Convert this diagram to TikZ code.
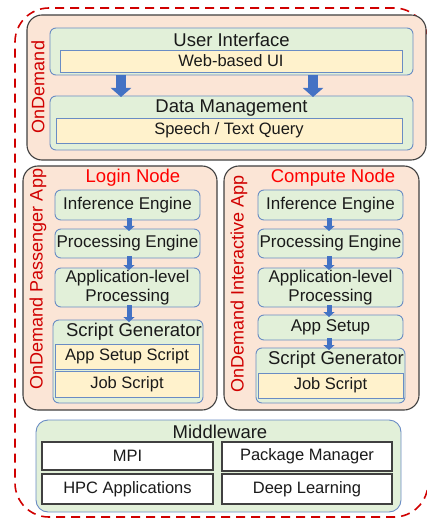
\documentclass[tikz,border=0pt]{standalone}
\usepackage{fontspec}
\setmainfont{Liberation Sans}
\usetikzlibrary{arrows.meta}
\definecolor{salmon}{HTML}{FBE5D6}
\definecolor{lgreen}{HTML}{E2F0D9}
\definecolor{lyellow}{HTML}{FFF2CC}
\definecolor{bborder}{HTML}{6A8CC4}
\definecolor{ablue}{HTML}{4472C4}
\definecolor{dred}{HTML}{D00000}
\definecolor{pgray}{HTML}{404040}
\definecolor{txtc}{HTML}{1A1A1A}
\tikzset{
  box/.style={anchor=north west, inner sep=0pt, outer sep=0pt, text=txtc},
  panel/.style={box, draw=pgray, fill=salmon, rounded corners=15pt, line width=1.1pt},
  gbox/.style={box, draw=bborder, fill=lgreen, rounded corners=6pt, line width=0.9pt,
    font=\fontsize{17}{19.5}\selectfont, align=center},
  ybox/.style={box, draw=bborder, fill=lyellow, line width=0.9pt, font=\fontsize{16.5}{19}\selectfont},
  wbox/.style={box, draw=pgray, fill=white, line width=1.3pt, font=\fontsize{16.5}{19}\selectfont},
  title/.style={inner sep=0pt, text=txtc, font=\fontsize{18.5}{20}\selectfont},
  redlbl/.style={inner sep=0pt, text=red, font=\fontsize{18.5}{20}\selectfont},
  vlbl/.style={inner sep=0pt, text=dred, rotate=90, font=\fontsize{18}{20}\selectfont},
  bigarrow/.style={draw=ablue, line width=10pt, -{Triangle[length=9pt,width=20pt]}, shorten >=-1pt},
  smallarrow/.style={draw=ablue, line width=5pt, -{Triangle[length=5pt,width=11pt]}, shorten <=-2pt, shorten >=-2pt},
}
\begin{document}
\begin{tikzpicture}[x=1pt,y=-1pt]
\useasboundingbox (0,0) rectangle (427,518);
% outer dashed boundary
\node[box, draw=dred, line width=1.6pt, dash pattern=on 9pt off 6pt, rounded corners=34pt,
  minimum width=413pt, minimum height=509pt] (outer) at (15,8) {};

% top OnDemand panel
\node[panel, minimum width=399pt, minimum height=145pt] (top) at (27,15) {};
\node[vlbl] (odl) at (38,87) {OnDemand};
\node[gbox, minimum width=363pt, minimum height=47pt] (ui) at (50,28) {};
\node[title] (uit) at (231.5,40) {User Interface};
\node[ybox, minimum width=342pt, minimum height=22pt] (web) at (60,50) {Web-based UI};
\node[gbox, minimum width=363pt, minimum height=54pt] (dm) at (50,96) {};
\node[title] (dmt) at (231.5,108) {Data Management};
\node[ybox, minimum width=346pt, minimum height=25pt] (sq) at (56,118) {Speech / Text Query};
\draw[bigarrow] (ui.south -| 121,0) -- (dm.north -| 121,0);
\draw[bigarrow] (ui.south -| 313,0) -- (dm.north -| 313,0);

% left panel
\node[panel, minimum width=194pt, minimum height=244pt] (lp) at (23,166) {};
\node[vlbl] (lpl) at (38,279) {OnDemand Passenger App};
\node[redlbl] (login) at (133,178) {Login Node};
\node[gbox, minimum width=145pt, minimum height=30pt] (ie1) at (55,190) {Inference Engine};
\node[gbox, minimum width=145pt, minimum height=29pt] (pe1) at (55,229) {Processing Engine};
\node[gbox, minimum width=145pt, minimum height=39pt] (al1) at (55,268) {Application-level\\Processing};
\node[gbox, minimum width=150pt, minimum height=83pt] (sg1) at (53,320) {};
\node[title] (sg1t) at (134,332) {Script Generator};
\node[ybox, minimum width=144pt, minimum height=25pt] (as1) at (55,344) {App Setup Script};
\node[ybox, minimum width=144pt, minimum height=26pt] (js1) at (55,371) {Job Script};
\draw[smallarrow] (ie1.south -| 129,0) -- (pe1.north -| 129,0);
\draw[smallarrow] (pe1.south -| 129,0) -- (al1.north -| 129,0);
\draw[smallarrow] (al1.south -| 129,0) -- (sg1.north -| 129,0);

% right panel
\node[panel, minimum width=195pt, minimum height=244pt] (rp) at (224,166) {};
\node[vlbl] (rpl) at (239,284) {OnDemand Interactive App};
\node[redlbl] (compute) at (333,178) {Compute Node};
\node[gbox, minimum width=145pt, minimum height=30pt] (ie2) at (258,190) {Inference Engine};
\node[gbox, minimum width=145pt, minimum height=29pt] (pe2) at (258,229) {Processing Engine};
\node[gbox, minimum width=145pt, minimum height=39pt] (al2) at (258,268) {Application-level\\Processing};
\node[gbox, minimum width=145pt, minimum height=25pt] (ap2) at (258,315) {App Setup};
\node[gbox, minimum width=149pt, minimum height=55pt] (sg2) at (256,348) {};
\node[title] (sg2t) at (336,360) {Script Generator};
\node[ybox, minimum width=145pt, minimum height=25pt] (js2) at (258,373) {Job Script};
\draw[smallarrow] (ie2.south -| 329,0) -- (pe2.north -| 329,0);
\draw[smallarrow] (pe2.south -| 329,0) -- (al2.north -| 329,0);
\draw[smallarrow] (al2.south -| 329,0) -- (ap2.north -| 329,0);
\draw[smallarrow] (ap2.south -| 329,0) -- (sg2.north -| 329,0);

% middleware
\node[gbox, rounded corners=12pt, minimum width=365pt, minimum height=92pt] (mw) at (36,420) {};
\node[title] (mwt) at (220,432) {Middleware};
\node[wbox, minimum width=171pt, minimum height=28pt] (mpi) at (42,442) {MPI};
\node[wbox, minimum width=170pt, minimum height=29pt] (pm) at (222,442) {Package Manager};
\node[wbox, minimum width=171pt, minimum height=30pt] (hpc) at (42,474) {HPC Applications};
\node[wbox, minimum width=170pt, minimum height=30pt] (dl) at (222,474) {Deep Learning};
\end{tikzpicture}
\end{document}
